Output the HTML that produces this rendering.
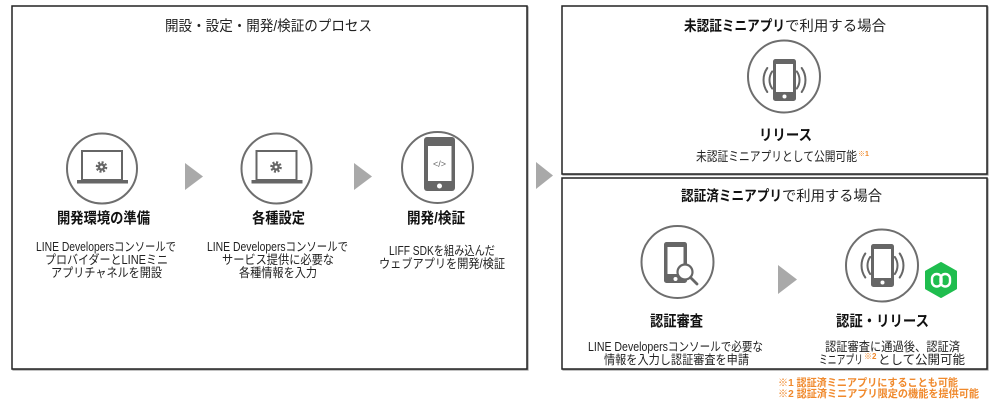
<!DOCTYPE html>
<html><head><meta charset="utf-8">
<style>
html,body{margin:0;padding:0;background:#fff;}
svg{display:block;}
text{font-family:"Liberation Sans","Noto Sans CJK JP",sans-serif;fill:#222;}
.b{font-weight:bold;fill:#111;}
.o{fill:#f0892c;font-weight:bold;}
</style></head><body>
<svg width="1000" height="405" viewBox="0 0 1000 405" xmlns="http://www.w3.org/2000/svg">
<!-- boxes -->
<rect x="13" y="7" width="515" height="363" fill="none" stroke="#999" stroke-width="1.2"/>
<rect x="12" y="6" width="515" height="363" fill="#fff" stroke="#222" stroke-width="1.5"/>
<rect x="563" y="7" width="425" height="168" fill="none" stroke="#999" stroke-width="1.2"/>
<rect x="562" y="6" width="425" height="168" fill="#fff" stroke="#222" stroke-width="1.5"/>
<rect x="563" y="179" width="425" height="191" fill="none" stroke="#999" stroke-width="1.2"/>
<rect x="562" y="178" width="425" height="191" fill="#fff" stroke="#222" stroke-width="1.5"/>

<!-- left title -->
<text x="165" y="31" font-size="14.5" textLength="207" lengthAdjust="spacingAndGlyphs">開設・設定・開発/検証のプロセス</text>

<!-- circles -->
<g fill="none" stroke="#6e6e6e" stroke-width="2">
<circle cx="102" cy="168.5" r="35"/>
<circle cx="276.5" cy="168.5" r="35"/>
<circle cx="437.5" cy="167.5" r="35.5"/>
<circle cx="784" cy="76.5" r="36"/>
<circle cx="677.5" cy="262" r="36"/>
<circle cx="882" cy="265.5" r="36"/>
</g>

<!-- laptop 1 -->
<g>
<rect x="82" y="151" width="40" height="29" fill="none" stroke="#666" stroke-width="2"/>
<rect x="77" y="180" width="51" height="3.5" fill="#666"/>
<circle cx="101.5" cy="167" r="3.8" fill="#666"/>
<circle cx="101.5" cy="167" r="4.6" fill="none" stroke="#666" stroke-width="2.4" stroke-dasharray="2 1.6"/>
<circle cx="101.5" cy="167" r="1.4" fill="#fff"/>
</g>
<!-- laptop 2 -->
<g transform="translate(174.5,0)">
<rect x="82" y="151" width="40" height="29" fill="none" stroke="#666" stroke-width="2"/>
<rect x="77" y="180" width="51" height="3.5" fill="#666"/>
<circle cx="101.5" cy="167" r="3.8" fill="#666"/>
<circle cx="101.5" cy="167" r="4.6" fill="none" stroke="#666" stroke-width="2.4" stroke-dasharray="2 1.6"/>
<circle cx="101.5" cy="167" r="1.4" fill="#fff"/>
</g>
<!-- phone dev -->
<rect x="424" y="137" width="31" height="54" rx="3" fill="#666"/>
<rect x="428" y="146" width="23.5" height="35" fill="#fff"/>
<circle cx="439.5" cy="186" r="2.5" fill="#fff"/>
<text x="439.5" y="167" font-size="9" text-anchor="middle" style="fill:#666">&lt;/&gt;</text>

<!-- arrows -->
<g fill="#a9a9a9">
<polygon points="185,163 203,176.5 185,190"/>
<polygon points="354,163 372,176.5 354,190"/>
<polygon points="536,162 553,175.5 536,189"/>
<polygon points="778,265 797,279.5 778,294"/>
</g>

<!-- left titles -->
<text class="b" x="57" y="223" font-size="15" textLength="93" lengthAdjust="spacingAndGlyphs">開発環境の準備</text>
<text class="b" x="252" y="223" font-size="15" textLength="53" lengthAdjust="spacingAndGlyphs">各種設定</text>
<text class="b" x="407" y="223" font-size="15" textLength="58" lengthAdjust="spacingAndGlyphs">開発/検証</text>

<!-- left descriptions -->
<g font-size="12.5">
<text x="36" y="251" textLength="140" lengthAdjust="spacingAndGlyphs">LINE Developersコンソールで</text>
<text x="45" y="264" textLength="123" lengthAdjust="spacingAndGlyphs">プロバイダーとLINEミニ</text>
<text x="51" y="277" textLength="111" lengthAdjust="spacingAndGlyphs">アプリチャネルを開設</text>
<text x="207" y="251" textLength="141" lengthAdjust="spacingAndGlyphs">LINE Developersコンソールで</text>
<text x="222" y="264" textLength="112" lengthAdjust="spacingAndGlyphs">サービス提供に必要な</text>
<text x="239" y="277" textLength="78" lengthAdjust="spacingAndGlyphs">各種情報を入力</text>
<text x="389" y="255" textLength="106" lengthAdjust="spacingAndGlyphs">LIFF SDKを組み込んだ</text>
<text x="379" y="268" textLength="126" lengthAdjust="spacingAndGlyphs">ウェブアプリを開発/検証</text>
</g>

<!-- top right -->
<text font-size="14.5" y="31"><tspan class="b" x="684" textLength="101" lengthAdjust="spacingAndGlyphs">未認証ミニアプリ</tspan><tspan x="785" textLength="101" lengthAdjust="spacingAndGlyphs">で利用する場合</tspan></text>
<rect x="773" y="59" width="23" height="42" rx="2.5" fill="#666"/>
<rect x="776" y="64" width="17" height="28" fill="#fff"/>
<circle cx="784.5" cy="96.5" r="2" fill="#fff"/>
<g fill="none" stroke="#666" stroke-width="2" stroke-linecap="round">
<path d="M772.2,71.4 A15,15 0 0 0 772.2,88.6"/>
<path d="M767.3,68 A21,21 0 0 0 767.3,92"/>
<path d="M796.8,71.4 A15,15 0 0 1 796.8,88.6"/>
<path d="M801.7,68 A21,21 0 0 1 801.7,92"/>
</g>
<text class="b" x="759" y="140" font-size="15" textLength="53" lengthAdjust="spacingAndGlyphs">リリース</text>
<text x="696" y="161" font-size="13" textLength="161" lengthAdjust="spacingAndGlyphs">未認証ミニアプリとして公開可能</text>
<text class="o" x="858" y="156" font-size="7">※1</text>

<!-- bottom right -->
<text font-size="14.5" y="201"><tspan class="b" x="681" textLength="101" lengthAdjust="spacingAndGlyphs">認証済ミニアプリ</tspan><tspan x="782" textLength="100" lengthAdjust="spacingAndGlyphs">で利用する場合</tspan></text>

<!-- phone search -->
<rect x="664" y="242" width="23" height="41" rx="2.5" fill="#666"/>
<rect x="667.5" y="247" width="16" height="27" fill="#fff"/>
<circle cx="675.5" cy="279" r="2" fill="#fff"/>
<circle cx="685" cy="272" r="7.5" fill="#fff" stroke="#666" stroke-width="2.2"/>
<line x1="690.5" y1="277.5" x2="697" y2="284" stroke="#666" stroke-width="2.8" stroke-linecap="round"/>

<!-- phone release 2 -->
<rect x="871" y="244" width="23" height="43" rx="2.5" fill="#666"/>
<rect x="874" y="249" width="17" height="29" fill="#fff"/>
<circle cx="882.5" cy="282.5" r="2" fill="#fff"/>
<g fill="none" stroke="#666" stroke-width="2" stroke-linecap="round">
<path d="M870.2,256.9 A15,15 0 0 0 870.2,274.1"/>
<path d="M865.3,253.5 A21,21 0 0 0 865.3,277.5"/>
<path d="M894.8,256.9 A15,15 0 0 1 894.8,274.1"/>
<path d="M899.7,253.5 A21,21 0 0 1 899.7,277.5"/>
</g>

<!-- green hex -->
<polygon points="941,263 956,271.5 956,288.5 941,297 926,288.5 926,271.5" fill="#1fbd4e" stroke="#1fbd4e" stroke-width="2" stroke-linejoin="round"/>
<rect x="932" y="274" width="9.5" height="12.5" rx="4.7" fill="none" stroke="#fff" stroke-width="2.4"/>
<rect x="940.5" y="274" width="9.5" height="12.5" rx="4.7" fill="none" stroke="#fff" stroke-width="2.4"/>

<text class="b" x="650" y="326" font-size="15" textLength="53" lengthAdjust="spacingAndGlyphs">認証審査</text>
<text class="b" x="836" y="326" font-size="15" textLength="93" lengthAdjust="spacingAndGlyphs">認証・リリース</text>

<g font-size="12.5">
<text x="588" y="351" textLength="175" lengthAdjust="spacingAndGlyphs">LINE Developersコンソールで必要な</text>
<text x="604" y="364" textLength="145" lengthAdjust="spacingAndGlyphs">情報を入力し認証審査を申請</text>
<text x="825" y="351" textLength="135" lengthAdjust="spacingAndGlyphs">認証審査に通過後、認証済</text>
<text x="819" y="364" textLength="44" lengthAdjust="spacingAndGlyphs">ミニアプリ</text>
<text x="878" y="364" textLength="87" lengthAdjust="spacingAndGlyphs">として公開可能</text>
</g>
<text class="o" x="864" y="359" font-size="8">※2</text>

<!-- footnotes -->
<text class="o" x="778" y="386" font-size="10.5" textLength="180" lengthAdjust="spacingAndGlyphs">※1 認証済ミニアプリにすることも可能</text>
<text class="o" x="778" y="397" font-size="10.5" textLength="201" lengthAdjust="spacingAndGlyphs">※2 認証済ミニアプリ限定の機能を提供可能</text>
</svg>
</body></html>
